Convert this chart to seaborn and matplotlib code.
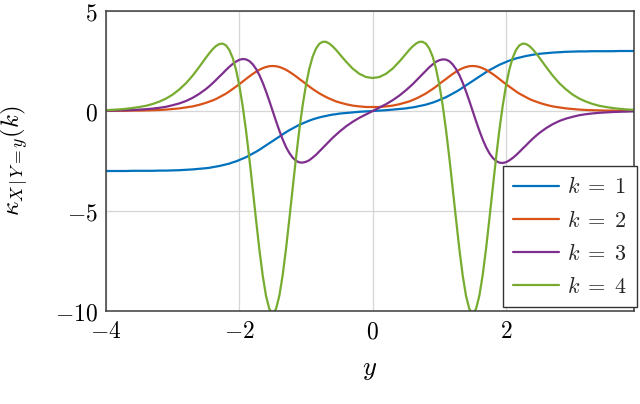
import matplotlib
matplotlib.use('Agg')
import matplotlib.pyplot as plt
import pandas as pd
import seaborn as sns
from matplotlib.ticker import FuncFormatter

# values
y_vals = [-4.0, -3.9, -3.8, -3.7, -3.6, -3.5, -3.4, -3.3, -3.2, -3.1,
          -3.0, -2.9, -2.8, -2.7, -2.6, -2.5, -2.45, -2.4, -2.35, -2.3,
          -2.25, -2.2, -2.15, -2.1, -2.05, -2.0, -1.95, -1.9, -1.85, -1.8,
          -1.75, -1.7, -1.65, -1.6, -1.55, -1.5, -1.45, -1.4, -1.35, -1.3,
          -1.25, -1.2, -1.15, -1.1, -1.05, -1.0, -0.95, -0.9, -0.85, -0.8,
          -0.75, -0.7, -0.65, -0.6, -0.55, -0.5, -0.4, -0.3, -0.2, -0.1,
          0.0,
          0.1, 0.2, 0.3, 0.4, 0.5, 0.55, 0.6, 0.65, 0.7, 0.75,
          0.8, 0.85, 0.9, 0.95, 1.0, 1.05, 1.1, 1.15, 1.2, 1.25,
          1.3, 1.35, 1.4, 1.45, 1.5, 1.55, 1.6, 1.65, 1.7, 1.75,
          1.8, 1.85, 1.9, 1.95, 2.0, 2.05, 2.1, 2.15, 2.2, 2.25,
          2.3, 2.35, 2.4, 2.45, 2.5, 2.6, 2.7, 2.8, 2.9, 3.0,
          3.1, 3.2, 3.3, 3.4, 3.5, 3.6, 3.7, 3.8, 3.9, 3.92]

kappa1 = [-3.00, -3.00, -3.00, -3.00, -2.99, -2.99, -2.99, -2.99, -2.98, -2.98,
          -2.97, -2.96, -2.94, -2.92, -2.89, -2.86, -2.84, -2.81, -2.78, -2.75,
          -2.71, -2.67, -2.63, -2.57, -2.52, -2.45, -2.38, -2.31, -2.22, -2.13,
          -2.04, -1.94, -1.83, -1.72, -1.61, -1.50, -1.39, -1.28, -1.17, -1.06,
          -0.96, -0.87, -0.78, -0.69, -0.62, -0.55, -0.48, -0.42, -0.37, -0.32,
          -0.28, -0.25, -0.21, -0.18, -0.16, -0.13, -0.10, -0.07, -0.04, -0.02,
          0.00,
          0.02, 0.04, 0.07, 0.10, 0.13, 0.16, 0.18, 0.21, 0.25, 0.28,
          0.32, 0.37, 0.42, 0.48, 0.55, 0.62, 0.69, 0.78, 0.87, 0.96,
          1.06, 1.17, 1.28, 1.39, 1.50, 1.61, 1.72, 1.83, 1.94, 2.04,
          2.13, 2.22, 2.31, 2.38, 2.45, 2.52, 2.57, 2.63, 2.67, 2.71,
          2.75, 2.78, 2.81, 2.84, 2.86, 2.89, 2.92, 2.94, 2.96, 2.97,
          2.98, 2.98, 2.99, 2.99, 2.99, 2.99, 3.00, 3.00, 3.00, 3.00]

kappa2 = [0.01, 0.01, 0.01, 0.01, 0.02, 0.02, 0.03, 0.04, 0.05, 0.07,
          0.10, 0.13, 0.18, 0.23, 0.31, 0.41, 0.47, 0.53, 0.60, 0.69,
          0.78, 0.87, 0.98, 1.10, 1.22, 1.34, 1.47, 1.60, 1.73, 1.85,
          1.96, 2.06, 2.14, 2.20, 2.24, 2.25, 2.24, 2.20, 2.14, 2.06,
          1.96, 1.85, 1.73, 1.60, 1.48, 1.35, 1.22, 1.10, 0.99, 0.88,
          0.79, 0.70, 0.62, 0.55, 0.48, 0.43, 0.34, 0.27, 0.23, 0.20,
          0.20,
          0.20, 0.23, 0.27, 0.34, 0.43, 0.48, 0.55, 0.62, 0.70, 0.79,
          0.88, 0.99, 1.10, 1.22, 1.35, 1.48, 1.60, 1.73, 1.85, 1.96,
          2.06, 2.14, 2.20, 2.24, 2.25, 2.24, 2.20, 2.14, 2.06, 1.96,
          1.85, 1.73, 1.60, 1.47, 1.34, 1.22, 1.10, 0.98, 0.87, 0.78,
          0.69, 0.60, 0.53, 0.47, 0.41, 0.31, 0.23, 0.18, 0.13, 0.10,
          0.07, 0.05, 0.04, 0.03, 0.02, 0.02, 0.01, 0.01, 0.01, 0.01]

kappa3 = [0.01, 0.02, 0.03, 0.04, 0.05, 0.07, 0.09, 0.12, 0.16, 0.21,
          0.29, 0.38, 0.50, 0.66, 0.86, 1.10, 1.24, 1.39, 1.55, 1.72,
          1.88, 2.05, 2.21, 2.35, 2.47, 2.56, 2.60, 2.58, 2.50, 2.34,
          2.11, 1.80, 1.42, 0.98, 0.50, 0.00, -0.50, -0.98, -1.42, -1.80,
          -2.10, -2.33, -2.49, -2.57, -2.58, -2.54, -2.46, -2.33, -2.19, -2.02,
          -1.85, -1.68, -1.51, -1.34, -1.19, -1.04, -0.77, -0.54, -0.34, -0.17,
          0.00,
          0.17, 0.34, 0.54, 0.77, 1.04, 1.19, 1.34, 1.51, 1.68, 1.85,
          2.02, 2.19, 2.33, 2.46, 2.54, 2.58, 2.57, 2.49, 2.33, 2.10,
          1.80, 1.42, 0.98, 0.50, 0.00, -0.50, -0.98, -1.42, -1.80, -2.11,
          -2.34, -2.50, -2.58, -2.60, -2.56, -2.47, -2.35, -2.21, -2.05, -1.88,
          -1.72, -1.55, -1.39, -1.24, -1.10, -0.86, -0.66, -0.50, -0.38, -0.29,
          -0.21, -0.16, -0.12, -0.09, -0.07, -0.05, -0.04, -0.03, -0.02, -0.02]

kappa4 = [0.04, 0.06, 0.08, 0.11, 0.15, 0.20, 0.26, 0.35, 0.47, 0.62,
          0.82, 1.08, 1.39, 1.77, 2.21, 2.67, 2.89, 3.09, 3.25, 3.35,
          3.37, 3.28, 3.05, 2.66, 2.07, 1.27, 0.25, -0.97, -2.37, -3.88,
          -5.42, -6.91, -8.21, -9.24, -9.90, -10.13, -9.90, -9.24, -8.21, -6.90,
          -5.40, -3.86, -2.34, -0.94, 0.29, 1.31, 2.12, 2.72, 3.12, 3.36,
          3.46, 3.46, 3.37, 3.23, 3.06, 2.86, 2.47, 2.12, 1.86, 1.70,
          1.65,
          1.70, 1.86, 2.12, 2.47, 2.86, 3.06, 3.23, 3.37, 3.46, 3.46,
          3.36, 3.12, 2.72, 2.12, 1.31, 0.29, -0.94, -2.34, -3.86, -5.40,
          -6.90, -8.21, -9.24, -9.90, -10.13, -9.90, -9.24, -8.21, -6.91, -5.42,
          -3.88, -2.37, -0.97, 0.25, 1.27, 2.07, 2.66, 3.05, 3.28, 3.37,
          3.35, 3.25, 3.09, 2.89, 2.67, 2.21, 1.77, 1.39, 1.08, 0.82,
          0.62, 0.47, 0.35, 0.26, 0.20, 0.15, 0.11, 0.08, 0.06, 0.06]

labels = [r'$k\;=\;1$', r'$k\;=\;2$', r'$k\;=\;3$', r'$k\;=\;4$']
colors = ['#0072BD', '#D95319', '#7E2F8E', '#77AC30']

series = [kappa1, kappa2, kappa3, kappa4]
df = pd.DataFrame({
    'y': y_vals * 4,
    'kappa': sum(series, []),
    'k': sum([[lab] * len(y_vals) for lab in labels], []),
})

sns.set_theme(style='whitegrid')
plt.rcParams['mathtext.fontset'] = 'cm'
plt.rcParams['font.size'] = 14

fig = plt.figure(figsize=(6.4, 4.04), dpi=100)
ax = fig.add_axes([106 / 640, 93 / 404, 528 / 640, 300 / 404])

sns.lineplot(data=df, x='y', y='kappa', hue='k', palette=colors,
             estimator=None, linewidth=1.6, ax=ax)

ax.set_xlim(-4, 3.92)
ax.set_ylim(-10, 5)
ax.set_xticks([-4, -2, 0, 2])
ax.set_yticks([-10, -5, 0, 5])
fmt = FuncFormatter(lambda v, _: f'${v:g}$')
ax.xaxis.set_major_formatter(fmt)
ax.yaxis.set_major_formatter(fmt)
ax.tick_params(length=0, labelsize=17, colors='black')
ax.tick_params(axis='x', pad=6)
ax.tick_params(axis='y', pad=6)

ax.set_facecolor('white')
ax.grid(True, color='#d6d6d6', linewidth=0.9)
for sp in ax.spines.values():
    sp.set_color('#3c3c3c')
    sp.set_linewidth(1.1)

ax.set_xlabel('$y$', fontsize=19, color='black')
ax.set_ylabel(r'$\kappa_{X\,|\,Y=y}(k)$', fontsize=18, color='black')
ax.xaxis.set_label_coords(0.5, -0.15)
ax.yaxis.set_label_coords(-0.143, 0.5)

handles, labs = ax.get_legend_handles_labels()
leg = ax.legend(handles, labs, loc='lower right',
                bbox_to_anchor=(637 / 640, 97 / 404), bbox_transform=fig.transFigure,
                frameon=True, fancybox=False, framealpha=1, edgecolor='#333333',
                borderaxespad=0, handlelength=2.1, handletextpad=0.35,
                labelspacing=0.55, borderpad=0.45, fontsize=16)
leg.get_frame().set_linewidth(1.0)
for line in leg.get_lines():
    line.set_linewidth(1.6)

fig.savefig('out.png', dpi=100)
